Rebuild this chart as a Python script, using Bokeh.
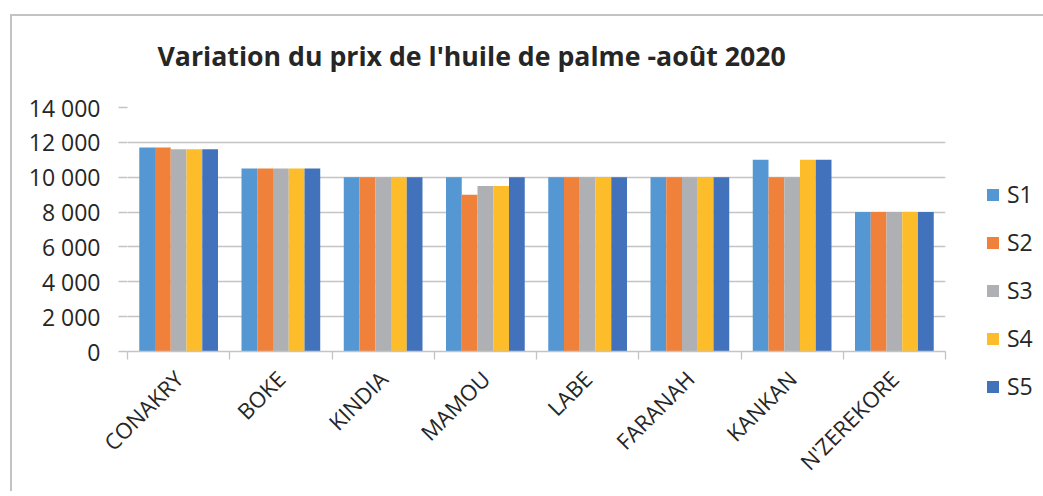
from bokeh.plotting import figure
from bokeh.models import ColumnDataSource, FixedTicker, Legend, LegendItem, Range1d
from bokeh.embed import file_html
from bokeh.resources import INLINE
import math

categories = ["CONAKRY", "BOKE", "KINDIA", "MAMOU", "LABE", "FARANAH", "KANKAN", "N'ZEREKORE"]
series_names = ["S1", "S2", "S3", "S4", "S5"]
S1 = [11700, 10500, 10000, 10000, 10000, 10000, 11000, 8000]
S2 = [11700, 10500, 10000, 9000, 10000, 10000, 10000, 8000]
S3 = [11600, 10500, 10000, 9500, 10000, 10000, 10000, 8000]
S4 = [11600, 10500, 10000, 9500, 10000, 10000, 11000, 8000]
S5 = [11600, 10500, 10000, 10000, 10000, 10000, 11000, 8000]
y_ticks = [0, 2000, 4000, 6000, 8000, 10000, 12000, 14000]
y_tick_labels = ["0", "2 000", "4 000", "6 000", "8 000", "10 000", "12 000", "14 000"]
title_text = "Variation du prix de l'huile de palme -août 2020"

colors = ["#5597D3", "#F0813B", "#AFB0B3", "#FDBD2A", "#4272BC"]
series = [S1, S2, S3, S4, S5]

FONT = "Open Sans"
TXT = "#262626"
GRID = "#c4c4c4"

p = figure(width=1043, height=491, output_backend="svg", toolbar_location=None,
           x_range=Range1d(-0.5, len(categories) - 0.5), y_range=Range1d(0, 14000),
           min_border_left=127, min_border_right=98, min_border_top=107, min_border_bottom=140)
p.border_fill_color = None
# chart-area border (top and left edges), drawn behind the transparent canvas
p.styles = {"background": "linear-gradient(#c3c3c3, #c3c3c3) 10px 14px / 2px 100% no-repeat, "
                          "linear-gradient(#c3c3c3, #c3c3c3) 10px 14px / 100% 2px no-repeat"}

p.title.text = title_text
p.title.text_font = FONT
p.title.text_font_size = "26.7px"
p.title.text_font_style = "bold"
p.title.text_color = TXT
p.title.align = "left"
p.title.offset = 30
p.title.standoff = 68

bw = 0.154
xs = list(range(len(categories)))
for k, (name, vals, c) in enumerate(zip(series_names, series, colors)):
    src = ColumnDataSource(dict(x=[i + (k - 2) * bw for i in xs], top=vals))
    p.vbar(x="x", top="top", width=bw, source=src, fill_color=c, line_color=None)

p.outline_line_color = None
p.xgrid.grid_line_color = None
p.ygrid.grid_line_color = GRID
p.ygrid.grid_line_width = 1.3
p.ygrid.ticker = FixedTicker(ticks=y_ticks)

# y axis
p.yaxis.ticker = FixedTicker(ticks=y_ticks)
p.yaxis.major_label_overrides = {t: l for t, l in zip(y_ticks, y_tick_labels)}
p.yaxis.axis_line_color = None
p.yaxis.major_tick_line_color = GRID
p.yaxis.major_tick_line_width = 1.3
p.yaxis.major_tick_out = 9
p.yaxis.major_tick_in = 0
p.yaxis.minor_tick_line_color = None
p.yaxis.major_label_standoff = 18
p.yaxis.major_label_text_font = FONT
p.yaxis.major_label_text_font_size = "23px"
p.yaxis.major_label_text_color = TXT

# x axis
bounds = [i - 0.5 for i in range(len(categories) + 1)]
p.xaxis.ticker = FixedTicker(ticks=xs, minor_ticks=bounds)
p.xaxis.major_label_overrides = {i: c for i, c in enumerate(categories)}
p.xaxis.axis_line_color = GRID
p.xaxis.axis_line_width = 1.3
p.xaxis.major_tick_line_color = None
p.xaxis.major_tick_out = 0
p.xaxis.major_tick_in = 0
p.xaxis.minor_tick_line_color = GRID
p.xaxis.minor_tick_line_width = 1.3
p.xaxis.minor_tick_out = 8
p.xaxis.minor_tick_in = 0
p.xaxis.major_label_orientation = math.pi / 4
p.xaxis.major_label_standoff = 15
p.xaxis.major_label_text_font = FONT
p.xaxis.major_label_text_font_size = "22px"
p.xaxis.major_label_text_color = TXT

# legend: small transparent figure placed over the right margin of the chart
lg = figure(width=60, height=260, output_backend="svg", toolbar_location=None,
            x_range=Range1d(0, 1), y_range=Range1d(0, 1),
            x_axis_location=None, y_axis_location=None,
            min_border_left=0, min_border_right=0, min_border_top=0, min_border_bottom=0)
lg.grid.visible = False
lg.outline_line_color = None
lg.background_fill_color = None
lg.border_fill_color = None
lg.styles = {"position": "absolute", "left": "985px", "top": "142px"}
items = []
for name, vals, c in zip(series_names, series, colors):
    # swatch renderers: data kept outside the tiny frame, only legend swatches show
    r = lg.vbar(x=[len(categories) + 5], top=[vals[0]], width=bw, fill_color=c, line_color=None)
    items.append(LegendItem(label=name, renderers=[r]))

legend = Legend(items=items, location=(0, 0))
legend.border_line_color = None
legend.background_fill_alpha = 0
legend.padding = 0
legend.margin = 0
legend.glyph_width = 15
legend.glyph_height = 15
legend.label_height = 28
legend.spacing = 16
legend.label_standoff = 7
legend.label_text_font = FONT
legend.label_text_font_size = "23px"
legend.label_text_color = TXT
lg.add_layout(legend)

open("out.html", "w").write(file_html([p, lg], INLINE))
